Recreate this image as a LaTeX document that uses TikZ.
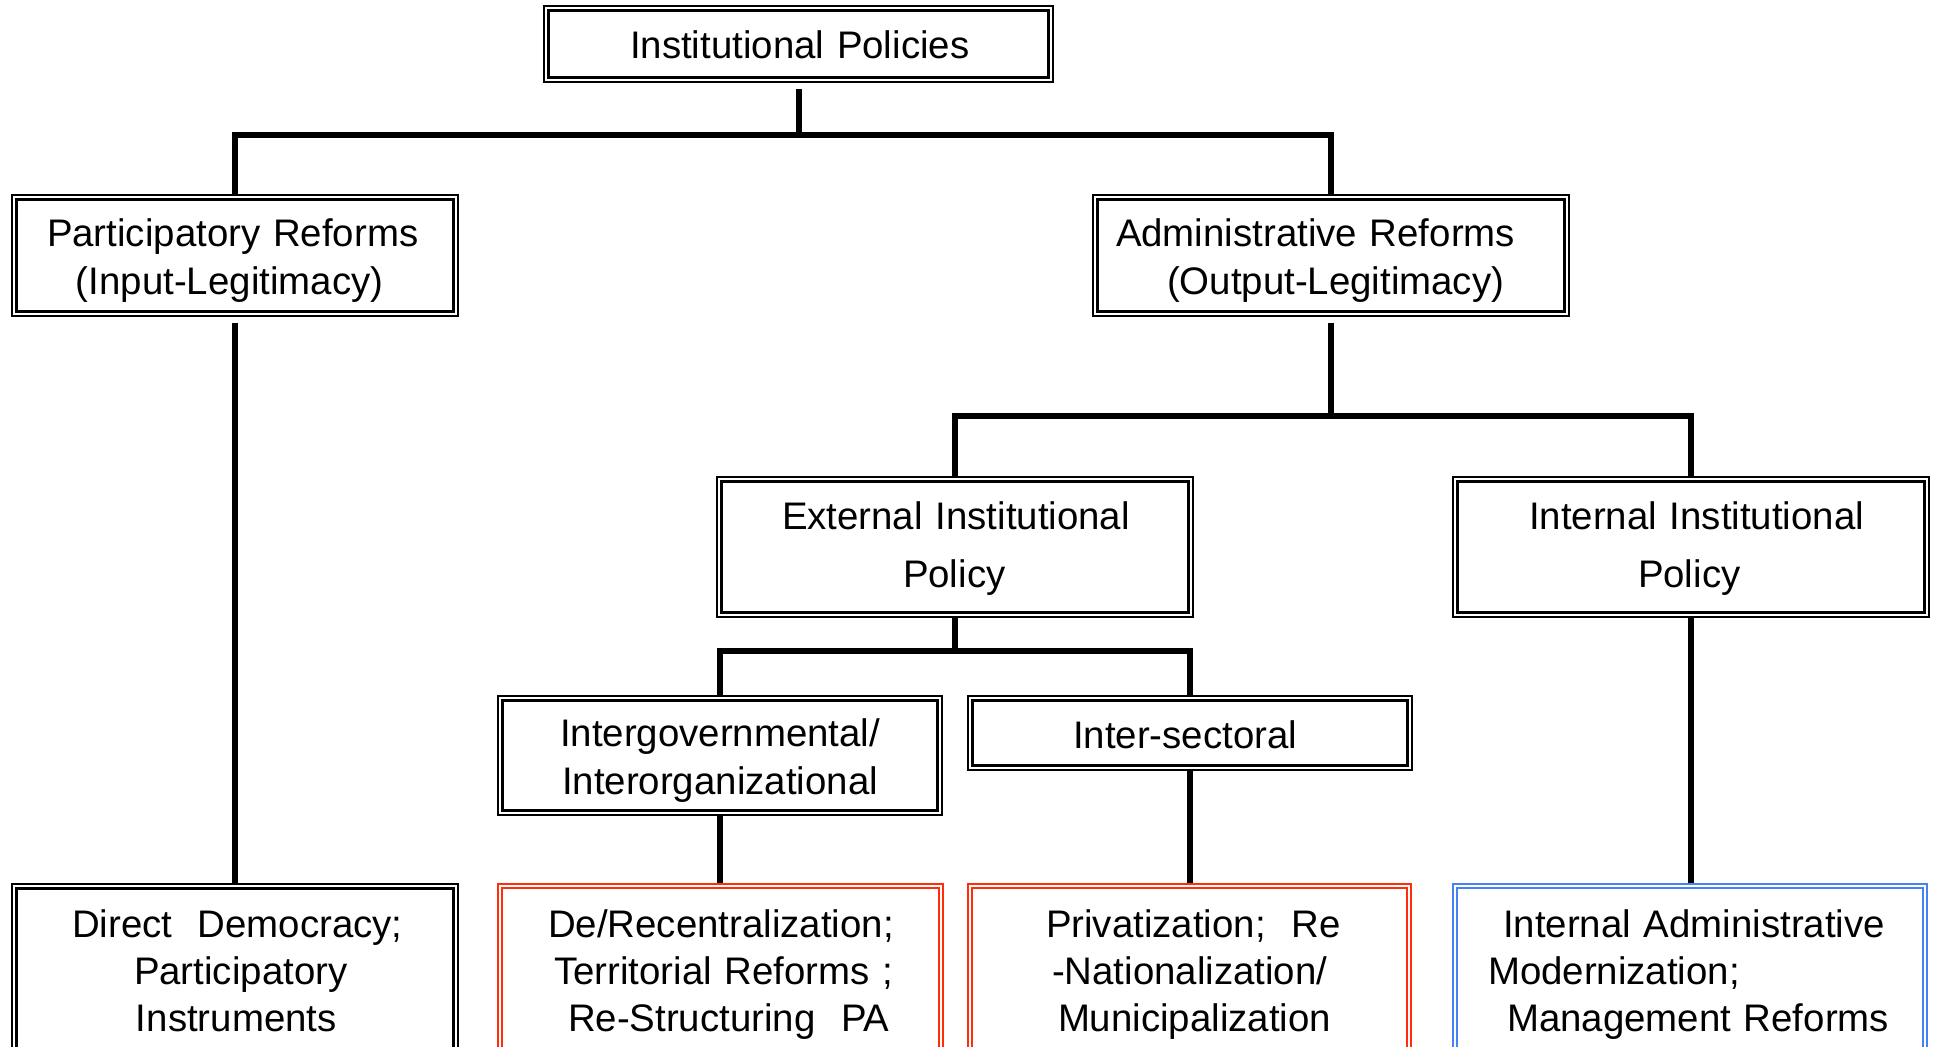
\documentclass[tikz,border=0pt]{standalone}
\usepackage{fontspec}
\setmainfont{Liberation Sans}
\usetikzlibrary{calc}
\definecolor{boxred}{RGB}{255,45,10}
\definecolor{boxblue}{RGB}{70,130,245}
\tikzset{
  conn/.style={line width=3pt, line cap=butt, line join=miter},
  box/.style={draw=#1, line width=0.75pt, inner sep=0pt, align=left,
    font=\fontsize{19.2pt}{24pt}\selectfont, text height=15pt},
  cbox/.style={draw=#1, line width=1.25pt, inner sep=0pt, align=left,
    font=\fontsize{19.2pt}{23.5pt}\selectfont, text height=15pt, text depth=47pt},
  tallbox/.style={box=black, font=\fontsize{19.2pt}{29pt}\selectfont,
    text height=11.2pt, text depth=29pt},
}
\begin{document}
\begin{tikzpicture}[x=0.5pt,y=-0.5pt]
\useasboundingbox (0,0) rectangle (1934,1047);
\fill[white] (0,0) rectangle (1934,1047);
\clip (0,0) rectangle (1934,1047);

\coordinate (b1) at (0,135.5);
\coordinate (b2) at (0,416.5);
\coordinate (b3) at (0,651.5);

\node[box=black, text depth=0pt, minimum width=254.5pt, text width=254.5pt, minimum height=38pt] (top) at (798.5,44)
  {\hspace*{43pt}Institutional Policies};
\node[box=black, text depth=24pt, minimum width=223pt, text width=223pt, minimum height=60.5pt] (part) at (235,255.5)
  {\hspace*{17.5pt}Participatory Reforms\\\hspace*{32pt}(Input-Legitimacy)};
\node[box=black, text depth=24pt, minimum width=238pt, text width=238pt, minimum height=60.5pt] (admin) at (1331,255.5)
  {\hspace*{11.5pt}Administrative Reforms\\\hspace*{37pt}(Output-Legitimacy)};
\node[tallbox, minimum width=238pt, text width=238pt, minimum height=70pt] (ext) at (955,547)
  {\hspace*{32.5pt}External Institutional\\\hspace*{93pt}Policy};
\node[tallbox, minimum width=238pt, text width=238pt, minimum height=70pt] (int) at (1691,547)
  {\hspace*{38pt}Internal Institutional\\\hspace*{92.5pt}Policy};
\node[box=black, text depth=24pt, minimum width=222pt, text width=222pt, minimum height=59.5pt] (igov) at (720,755.5)
  {\hspace*{31pt}Intergovernmental/\\\hspace*{32pt}Interorganizational};
\node[box=black, text depth=0pt, minimum width=222pt, text width=222pt, minimum height=37pt] (isec) at (1190,733)
  {\hspace*{52.5pt}Inter-sectoral};
\node[cbox=black, line width=0.75pt, minimum width=223pt, text width=223pt, minimum height=85pt] (direct) at (235,969)
  {\hspace*{30pt}Direct~~Democracy;\\\hspace*{61pt}Participatory\\\hspace*{62pt}Instruments};
\node[cbox=boxred, minimum width=222.5pt, text width=222.5pt, minimum height=85pt] (decen) at (720.5,969)
  {\hspace*{25pt}De/Recentralization;\\\hspace*{28pt}Territorial Reforms ;\\\hspace*{35pt}Re-Structuring~~PA};
\node[cbox=boxred, minimum width=221.5pt, text width=221.5pt, minimum height=85pt] (priv) at (1189.5,969)
  {\hspace*{39pt}Privatization;~~Re\\\hspace*{42pt}-Nationalization/\\\hspace*{45pt}Municipalization};
\node[cbox=boxblue, minimum width=237pt, text width=237pt, minimum height=85pt] (intadm) at (1690,969)
  {\hspace*{25pt}Internal Administrative\\\hspace*{17.5pt}Modernization;\\\hspace*{27pt}Management Reforms};

\foreach \n/\c/\w/\o in {top/black/1.5pt/5, part/black/1.5pt/5, admin/black/1.5pt/5,
    ext/black/1.5pt/5, int/black/1.5pt/5, igov/black/1.5pt/5, isec/black/1.5pt/5,
    direct/black/1.5pt/5, decen/boxred/1.2pt/5.5, priv/boxred/1.2pt/5.5, intadm/boxblue/1.2pt/5.5}
  \draw[draw=\c, line width=\w] ($(\n.north west)+(\o,\o)$) rectangle ($(\n.south east)+(-\o,-\o)$);

\draw[conn, shorten <=3pt] (top.south) -- (top.south |- b1);
\draw[conn] (part.north) -- (part.north |- b1) -- (admin.north |- b1) -- (admin.north);
\draw[conn, shorten <=3pt] (part.south) -- (part.south |- direct.north);
\draw[conn, shorten <=3pt] (admin.south) -- (admin.south |- b2);
\draw[conn] (ext.north) -- (ext.north |- b2) -- (int.north |- b2) -- (int.north);
\draw[conn] (ext.south) -- (ext.south |- b3);
\draw[conn] (igov.north) -- (igov.north |- b3) -- (isec.north |- b3) -- (isec.north);
\draw[conn] (igov.south) -- (igov.south |- decen.north);
\draw[conn] (isec.south) -- (isec.south |- priv.north);
\draw[conn] (int.south) -- (int.south |- intadm.north);
\end{tikzpicture}
\end{document}
